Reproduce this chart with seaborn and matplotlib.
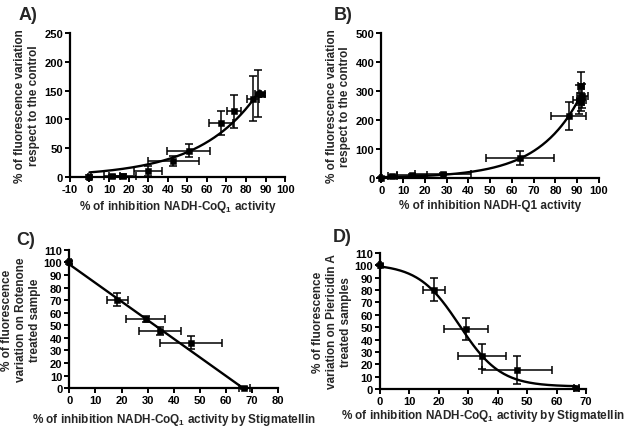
import numpy as np
import pandas as pd
import matplotlib
matplotlib.use("Agg")
import matplotlib.pyplot as plt
import seaborn as sns

# ---------------- data ----------------
# Panel A
a_x = [0, 11.6, 16.9, 30, 42.8, 50.8, 67.2, 74, 83.7, 86.3, 88.0]
a_y = [0, 1, 2, 10.4, 27.8, 45.7, 93.8, 114, 136, 145, 143.5]
a_xerr = [0.6, 4, 7, 7, 13, 11, 6, 3.5, 3, 1.5, 1.5]
a_yerr = [3, 3, 3, 8, 9, 11, 20, 29, 39, 41, 3]
a_fit = (8.0, 0.0337)  # A*exp(k*x)
a_fit_range = (0, 87)

# Panel B
b_x = [0, 5, 14, 28.4, 63.8, 86, 91, 91.8, 92.4, 91.5]
b_y = [0, 8, 10, 14, 68, 213, 270, 317, 282, 262]
b_xerr = [0.5, 2, 7, 13, 15.6, 8, 3, 1.5, 2.5, 1.5]
b_yerr = [2, 3, 3, 3, 25, 48, 50, 50, 42, 30]
b_fit = (2.45, 0.0519)
b_fit_range = (0, 92)

# Panel C
c_x = [0, 18.4, 29.2, 34.7, 46.6, 67]
c_y = [100, 70.5, 55, 45.3, 36.3, 0]
c_xerr = [0.5, 4, 7.6, 8.2, 11.7, 2]
c_yerr = [1, 5, 2.5, 3, 5, 1]
c_fit = (98.5, -1.48)  # intercept, slope
c_fit_range = (0, 66.5)

# Panel D
d_x = [0, 18.4, 29.2, 34.6, 46.5, 66.7]
d_y = [100, 80.2, 48.4, 26.6, 15.3, 0.8]
d_xerr = [0.5, 3.8, 7.5, 8.2, 11.8, 0.8]
d_yerr = [1, 9.4, 9, 10, 11.6, 1]
d_fit = (101.0, 2.0, 27.0, 7.0)  # top, bottom, x0, slope
d_fit_range = (0, 66.5)

# ---------------- style ----------------
sns.set_theme(style="ticks")
plt.rcParams["font.family"] = ["Liberation Sans", "DejaVu Sans"]
plt.rcParams["font.weight"] = "bold"
plt.rcParams["axes.unicode_minus"] = False
plt.rcParams["mathtext.fontset"] = "custom"
plt.rcParams["mathtext.rm"] = "Liberation Sans:bold"
plt.rcParams["mathtext.bf"] = "Liberation Sans:bold"
plt.rcParams["mathtext.it"] = "Liberation Sans:bold"

fig = plt.figure(figsize=(6.24, 4.31), dpi=100)

positions = {
    "A": [0.112, 0.587, 0.345, 0.334],
    "B": [0.611, 0.585, 0.349, 0.336],
    "C": [0.111, 0.097, 0.335, 0.321],
    "D": [0.609, 0.095, 0.330, 0.316],
}

TICK_FS = 8.0
LAB_FS = 8.5


def style_axes(ax):
    for s in ["top", "right"]:
        ax.spines[s].set_visible(False)
    for s in ["left", "bottom"]:
        ax.spines[s].set_linewidth(1.6)
        ax.spines[s].set_color("black")
    ax.tick_params(axis="both", which="major", direction="out", length=3.5,
                   width=1.4, colors="black", labelsize=TICK_FS, pad=1.5)
    for lab in ax.get_xticklabels() + ax.get_yticklabels():
        lab.set_fontweight("bold")


def draw_panel(ax, xs, ys, xerr, yerr, fx, fy):
    df = pd.DataFrame({"x": xs, "y": ys})
    ax.errorbar(xs, ys, xerr=xerr, yerr=yerr, fmt="none", ecolor="black",
                elinewidth=1.1, capsize=2.8, capthick=1.1, zorder=3, clip_on=False)
    fdf = pd.DataFrame({"x": fx, "y": fy})
    sns.lineplot(data=fdf, x="x", y="y", ax=ax, color="black", linewidth=1.7,
                 zorder=4, estimator=None, sort=False)
    sns.scatterplot(data=df, x="x", y="y", ax=ax, marker="s", s=22, color="black",
                    edgecolor="black", zorder=5, clip_on=False)


# Panel A
axA = fig.add_axes(positions["A"])
fx = np.linspace(*a_fit_range, 200)
draw_panel(axA, a_x, a_y, a_xerr, a_yerr, fx, a_fit[0] * np.exp(a_fit[1] * fx))
axA.set_xlim(-10, 100)
axA.set_ylim(0, 250)
axA.set_xticks(np.arange(-10, 101, 10))
axA.set_yticks(np.arange(0, 251, 50))
axA.set_xlabel("% of inhibition NADH-CoQ$_1$ activity", fontsize=LAB_FS,
               fontweight="bold", labelpad=3)
axA.set_ylabel("% of fluorescence variation\nrespect to the control",
               fontsize=LAB_FS, fontweight="bold", labelpad=3)
style_axes(axA)

# Panel B
axB = fig.add_axes(positions["B"])
fx = np.linspace(*b_fit_range, 200)
draw_panel(axB, b_x, b_y, b_xerr, b_yerr, fx, b_fit[0] * np.exp(b_fit[1] * fx))
axB.set_xlim(0, 100)
axB.set_ylim(0, 500)
axB.set_xticks(np.arange(0, 101, 10))
axB.set_yticks(np.arange(0, 501, 100))
axB.set_xlabel("% of inhibition NADH-Q1 activity", fontsize=LAB_FS,
               fontweight="bold", labelpad=3)
axB.set_ylabel("% of fluorescence variation\nrespect to the control",
               fontsize=LAB_FS, fontweight="bold", labelpad=3)
style_axes(axB)

# Panel C
axC = fig.add_axes(positions["C"])
fx = np.linspace(*c_fit_range, 200)
draw_panel(axC, c_x, c_y, c_xerr, c_yerr, fx, c_fit[0] + c_fit[1] * fx)
axC.set_xlim(0, 80)
axC.set_ylim(0, 110)
axC.set_xticks(np.arange(0, 81, 10))
axC.set_yticks(np.arange(0, 111, 10))
axC.set_xlabel("% of inhibition NADH-CoQ$_1$ activity by Stigmatellin",
               fontsize=LAB_FS, fontweight="bold", labelpad=4)
axC.set_ylabel("% of fluorescence\nvariation on Rotenone\ntreated sample",
               fontsize=LAB_FS, fontweight="bold", labelpad=2)
style_axes(axC)

# Panel D
axD = fig.add_axes(positions["D"])
fx = np.linspace(*d_fit_range, 200)
top, bot, x0, s = d_fit
draw_panel(axD, d_x, d_y, d_xerr, d_yerr, fx, bot + (top - bot) / (1 + np.exp((fx - x0) / s)))
axD.set_xlim(0, 70)
axD.set_ylim(0, 110)
axD.set_xticks(np.arange(0, 71, 10))
axD.set_yticks(np.arange(0, 111, 10))
axD.set_xlabel("% of inhibition NADH-CoQ$_1$ activity by Stigmatellin",
               fontsize=LAB_FS, fontweight="bold", labelpad=0.5)
axD.set_ylabel("% of fluorescence\nvariation on Piericidin A\ntreated samples",
               fontsize=LAB_FS, fontweight="bold", labelpad=2)
style_axes(axD)

# Panel labels
fig.text(0.030, 0.963, "A)", fontsize=13, fontweight="bold", ha="left", va="center")
fig.text(0.535, 0.963, "B)", fontsize=13, fontweight="bold", ha="left", va="center")
fig.text(0.026, 0.443, "C)", fontsize=13, fontweight="bold", ha="left", va="center")
fig.text(0.533, 0.448, "D)", fontsize=13, fontweight="bold", ha="left", va="center")

fig.savefig("out.png", dpi=100)
